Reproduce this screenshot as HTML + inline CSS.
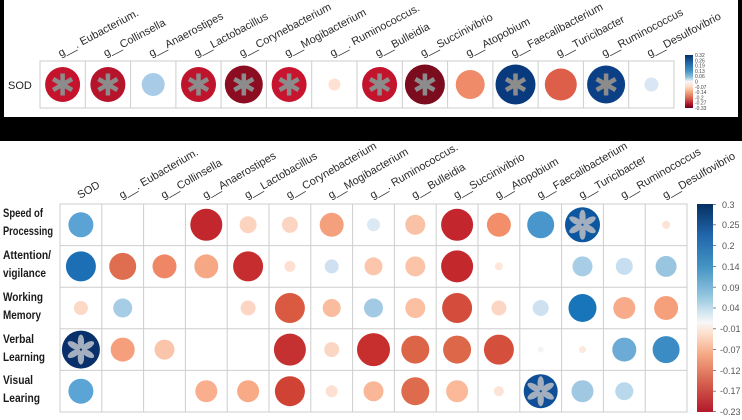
<!DOCTYPE html>
<html><head><meta charset="utf-8"><style>
html,body{margin:0;padding:0;background:#000;}
svg{display:block;}
.cl{font-family:"Liberation Sans",sans-serif;font-size:11px;fill:#2a2a2a;}
.rl{font-family:"Liberation Sans",sans-serif;font-size:12px;font-weight:bold;fill:#1a1a1a;}
.cb{font-family:"Liberation Sans",sans-serif;font-size:9px;fill:#555;}
.cbt{font-family:"Liberation Sans",sans-serif;font-size:5px;fill:#444;}
</style></head><body>
<svg width="742" height="420" viewBox="0 0 742 420" xmlns="http://www.w3.org/2000/svg">
<defs>
<linearGradient id="g1" x1="0" y1="0" x2="0" y2="1">
<stop offset="0" stop-color="#053061"/><stop offset="0.15" stop-color="#2166ac"/><stop offset="0.3" stop-color="#4393c3"/><stop offset="0.44" stop-color="#92c5de"/><stop offset="0.52" stop-color="#d1e5f0"/><stop offset="0.57" stop-color="#f7f7f7"/><stop offset="0.63" stop-color="#fddbc7"/><stop offset="0.73" stop-color="#f4a582"/><stop offset="0.86" stop-color="#d6604d"/><stop offset="1" stop-color="#b2182b"/>
</linearGradient>
<linearGradient id="g2" x1="0" y1="0" x2="0" y2="1">
<stop offset="0" stop-color="#053061"/><stop offset="0.15" stop-color="#2166ac"/><stop offset="0.3" stop-color="#4393c3"/><stop offset="0.42" stop-color="#92c5de"/><stop offset="0.5" stop-color="#f7f7f7"/><stop offset="0.6" stop-color="#fddbc7"/><stop offset="0.7" stop-color="#f4a582"/><stop offset="0.82" stop-color="#d6604d"/><stop offset="0.92" stop-color="#b2182b"/><stop offset="1" stop-color="#67001f"/>
</linearGradient>
<g id="ast"><g stroke="#8c8c8c" stroke-width="4.5"><line x1="0" y1="-11" x2="0" y2="11"/><line x1="-9.5" y1="-5.5" x2="9.5" y2="5.5"/><line x1="-9.5" y1="5.5" x2="9.5" y2="-5.5"/></g></g>
<g id="fl" fill="#a3afbf"><ellipse cx="0" cy="-8" rx="3.2" ry="7"/><ellipse cx="0" cy="-8" rx="3.2" ry="7" transform="rotate(60)"/><ellipse cx="0" cy="-8" rx="3.2" ry="7" transform="rotate(120)"/><ellipse cx="0" cy="-8" rx="3.2" ry="7" transform="rotate(180)"/><ellipse cx="0" cy="-8" rx="3.2" ry="7" transform="rotate(240)"/><ellipse cx="0" cy="-8" rx="3.2" ry="7" transform="rotate(300)"/></g>
</defs>
<rect x="0" y="0" width="742" height="420" fill="#000"/>
<!-- TOP PANEL -->
<rect x="4" y="0" width="734" height="117" fill="#fff"/>
<g stroke="#cdcdcd" stroke-width="1" fill="none">
<rect x="40" y="61" width="634" height="47"/>
<line x1="85.3" y1="61" x2="85.3" y2="108"/><line x1="130.6" y1="61" x2="130.6" y2="108"/><line x1="175.9" y1="61" x2="175.9" y2="108"/><line x1="221.1" y1="61" x2="221.1" y2="108"/><line x1="266.4" y1="61" x2="266.4" y2="108"/><line x1="311.7" y1="61" x2="311.7" y2="108"/><line x1="357" y1="61" x2="357" y2="108"/><line x1="402.3" y1="61" x2="402.3" y2="108"/><line x1="447.6" y1="61" x2="447.6" y2="108"/><line x1="492.9" y1="61" x2="492.9" y2="108"/><line x1="538.1" y1="61" x2="538.1" y2="108"/><line x1="583.4" y1="61" x2="583.4" y2="108"/><line x1="628.7" y1="61" x2="628.7" y2="108"/>
</g>
<text x="8" y="89" style="font-family:'Liberation Sans',sans-serif;font-size:11px;fill:#222">SOD</text>
<g class="cl">
<text x="60.6" y="57" transform="rotate(-28 60.6 57)">g__. Eubacterium.</text>
<text x="105.9" y="57" transform="rotate(-28 105.9 57)">g__Collinsella</text>
<text x="151.2" y="57" transform="rotate(-28 151.2 57)">g__Anaerostipes</text>
<text x="196.5" y="57" transform="rotate(-28 196.5 57)">g__Lactobacillus</text>
<text x="241.8" y="57" transform="rotate(-28 241.8 57)">g__Corynebacterium</text>
<text x="287.1" y="57" transform="rotate(-28 287.1 57)">g__Mogibacterium</text>
<text x="332.4" y="57" transform="rotate(-28 332.4 57)">g__. Ruminococcus.</text>
<text x="377.6" y="57" transform="rotate(-28 377.6 57)">g__Bulleidia</text>
<text x="422.9" y="57" transform="rotate(-28 422.9 57)">g__Succinivibrio</text>
<text x="468.2" y="57" transform="rotate(-28 468.2 57)">g__Atopobium</text>
<text x="513.5" y="57" transform="rotate(-28 513.5 57)">g__Faecalibacterium</text>
<text x="558.8" y="57" transform="rotate(-28 558.8 57)">g__Turicibacter</text>
<text x="604.1" y="57" transform="rotate(-28 604.1 57)">g__Ruminococcus</text>
<text x="649.4" y="57" transform="rotate(-28 649.4 57)">g__Desulfovibrio</text>
</g>
<circle cx="62.6" cy="84.5" r="17.5" fill="#c5132d"/><use href="#ast" x="62.6" y="84.5"/>
<circle cx="107.9" cy="84.5" r="17.5" fill="#b5142b"/><use href="#ast" x="107.9" y="84.5"/>
<circle cx="153.2" cy="84.5" r="11.5" fill="#a8cce8"/>
<circle cx="198.5" cy="84.5" r="17.5" fill="#c0132c"/><use href="#ast" x="198.5" y="84.5"/>
<circle cx="243.8" cy="84.5" r="19" fill="#8c0d22"/><use href="#ast" x="243.8" y="84.5"/>
<circle cx="289.1" cy="84.5" r="17.5" fill="#c8152f"/><use href="#ast" x="289.1" y="84.5"/>
<circle cx="334.4" cy="84.5" r="6" fill="#fde2d4"/>
<circle cx="379.6" cy="84.5" r="17.5" fill="#c3142e"/><use href="#ast" x="379.6" y="84.5"/>
<circle cx="424.9" cy="84.5" r="20" fill="#7b0c1e"/><use href="#ast" x="424.9" y="84.5"/>
<circle cx="470.2" cy="84.5" r="14.5" fill="#f08b6a"/>
<circle cx="515.5" cy="84.5" r="20" fill="#083a7d"/><use href="#ast" x="515.5" y="84.5"/>
<circle cx="560.8" cy="84.5" r="16" fill="#dd5f49"/>
<circle cx="606.1" cy="84.5" r="19" fill="#0b4087"/><use href="#ast" x="606.1" y="84.5"/>
<circle cx="651.4" cy="84.5" r="7" fill="#d9e6f3"/>
<rect x="685" y="55" width="8" height="53" fill="url(#g2)"/>
<g class="cbt">
<text x="695" y="57">0.32</text><text x="695" y="62.3">0.26</text><text x="695" y="67.6">0.19</text><text x="695" y="72.9">0.13</text><text x="695" y="78.2">0.06</text><text x="695" y="83.5">0</text><text x="695" y="88.8">-0.07</text><text x="695" y="94.1">-0.14</text><text x="695" y="99.4">-0.2</text><text x="695" y="104.7">-0.27</text><text x="695" y="110">-0.33</text>
</g>
<!-- BOTTOM PANEL -->
<rect x="0" y="141" width="742" height="279" fill="#fff"/>
<g stroke="#cdcdcd" stroke-width="1" fill="none">
<rect x="60" y="204" width="627" height="208"/>
<line x1="101.8" y1="204" x2="101.8" y2="412"/><line x1="143.6" y1="204" x2="143.6" y2="412"/><line x1="185.4" y1="204" x2="185.4" y2="412"/><line x1="227.2" y1="204" x2="227.2" y2="412"/><line x1="269" y1="204" x2="269" y2="412"/><line x1="310.8" y1="204" x2="310.8" y2="412"/><line x1="352.6" y1="204" x2="352.6" y2="412"/><line x1="394.4" y1="204" x2="394.4" y2="412"/><line x1="436.2" y1="204" x2="436.2" y2="412"/><line x1="478" y1="204" x2="478" y2="412"/><line x1="519.8" y1="204" x2="519.8" y2="412"/><line x1="561.6" y1="204" x2="561.6" y2="412"/><line x1="603.4" y1="204" x2="603.4" y2="412"/><line x1="645.2" y1="204" x2="645.2" y2="412"/>
<line x1="60" y1="245.6" x2="687" y2="245.6"/><line x1="60" y1="287.2" x2="687" y2="287.2"/><line x1="60" y1="328.8" x2="687" y2="328.8"/><line x1="60" y1="370.4" x2="687" y2="370.4"/>
</g>
<g class="cl">
<text x="80" y="199" transform="rotate(-30 80 199)">SOD</text>
<text x="121.7" y="199" transform="rotate(-30 121.7 199)">g__. Eubacterium.</text>
<text x="163.5" y="199" transform="rotate(-30 163.5 199)">g__Collinsella</text>
<text x="205.3" y="199" transform="rotate(-30 205.3 199)">g__Anaerostipes</text>
<text x="247.1" y="199" transform="rotate(-30 247.1 199)">g__Lactobacillus</text>
<text x="288.9" y="199" transform="rotate(-30 288.9 199)">g__Corynebacterium</text>
<text x="330.7" y="199" transform="rotate(-30 330.7 199)">g__Mogibacterium</text>
<text x="372.5" y="199" transform="rotate(-30 372.5 199)">g__. Ruminococcus.</text>
<text x="414.3" y="199" transform="rotate(-30 414.3 199)">g__Bulleidia</text>
<text x="456.1" y="199" transform="rotate(-30 456.1 199)">g__Succinivibrio</text>
<text x="497.9" y="199" transform="rotate(-30 497.9 199)">g__Atopobium</text>
<text x="539.7" y="199" transform="rotate(-30 539.7 199)">g__Faecalibacterium</text>
<text x="581.5" y="199" transform="rotate(-30 581.5 199)">g__Turicibacter</text>
<text x="623.3" y="199" transform="rotate(-30 623.3 199)">g__Ruminococcus</text>
<text x="665.1" y="199" transform="rotate(-30 665.1 199)">g__Desulfovibrio</text>
</g>
<g class="rl">
<text x="3" y="217" textLength="40" lengthAdjust="spacingAndGlyphs">Speed of</text>
<text x="3" y="235" textLength="50" lengthAdjust="spacingAndGlyphs">Processing</text>
<text x="3" y="259" textLength="48" lengthAdjust="spacingAndGlyphs">Attention/</text>
<text x="3" y="277" textLength="43" lengthAdjust="spacingAndGlyphs">vigilance</text>
<text x="3" y="301" textLength="40" lengthAdjust="spacingAndGlyphs">Working</text>
<text x="3" y="319" textLength="38" lengthAdjust="spacingAndGlyphs">Memory</text>
<text x="3" y="343" textLength="31" lengthAdjust="spacingAndGlyphs">Verbal</text>
<text x="3" y="361" textLength="42" lengthAdjust="spacingAndGlyphs">Learning</text>
<text x="3" y="384" textLength="30" lengthAdjust="spacingAndGlyphs">Visual</text>
<text x="3" y="402" textLength="37" lengthAdjust="spacingAndGlyphs">Learing</text>
</g>
<!-- Row 0 -->
<circle cx="80.9" cy="224.8" r="12.5" fill="#5ba3d5"/>
<circle cx="206.3" cy="224.8" r="16" fill="#c2272d"/>
<circle cx="248.1" cy="224.8" r="8.5" fill="#fcd3be"/>
<circle cx="289.9" cy="224.8" r="8" fill="#fcd5c2"/>
<circle cx="331.7" cy="224.8" r="12" fill="#f5a07d"/>
<circle cx="373.5" cy="224.8" r="6.5" fill="#dbe9f4"/>
<circle cx="415.3" cy="224.8" r="10" fill="#f9c1a5"/>
<circle cx="457.1" cy="224.8" r="16" fill="#c3262c"/>
<circle cx="498.9" cy="224.8" r="12" fill="#f38e6a"/>
<circle cx="540.7" cy="224.8" r="13.5" fill="#4896cc"/>
<circle cx="582.5" cy="224.8" r="17.5" fill="#0d57a1"/><use href="#fl" x="582.5" y="224.8"/>
<circle cx="666.1" cy="224.8" r="4" fill="#fde3d6"/>
<!-- Row 1 -->
<circle cx="80.9" cy="266.4" r="15" fill="#1d6fb5"/>
<circle cx="122.7" cy="266.4" r="13.5" fill="#df6d4f"/>
<circle cx="164.5" cy="266.4" r="12" fill="#ef8767"/>
<circle cx="206.3" cy="266.4" r="12" fill="#f6a784"/>
<circle cx="248.1" cy="266.4" r="15" fill="#c52d2f"/>
<circle cx="289.9" cy="266.4" r="5.5" fill="#fde0d2"/>
<circle cx="331.7" cy="266.4" r="7" fill="#cfe1f0"/>
<circle cx="373.5" cy="266.4" r="9" fill="#fbc6ac"/>
<circle cx="415.3" cy="266.4" r="10" fill="#fbc3a7"/>
<circle cx="457.1" cy="266.4" r="16" fill="#c2282c"/>
<circle cx="498.9" cy="266.4" r="4" fill="#fde6da"/>
<circle cx="582.5" cy="266.4" r="10" fill="#a8cde6"/>
<circle cx="624.3" cy="266.4" r="8.5" fill="#c6def0"/>
<circle cx="666.1" cy="266.4" r="10.5" fill="#99c5e1"/>
<!-- Row 2 -->
<circle cx="80.9" cy="308" r="7" fill="#fcd8c6"/>
<circle cx="122.7" cy="308" r="9.5" fill="#a7cde6"/>
<circle cx="248.1" cy="308" r="7.5" fill="#fcd6c3"/>
<circle cx="289.9" cy="308" r="15" fill="#da5a41"/>
<circle cx="331.7" cy="308" r="9" fill="#f9bc9e"/>
<circle cx="373.5" cy="308" r="9.5" fill="#a2cae4"/>
<circle cx="415.3" cy="308" r="10" fill="#fbbfa1"/>
<circle cx="457.1" cy="308" r="15" fill="#d44c3b"/>
<circle cx="498.9" cy="308" r="7.5" fill="#fcd6c4"/>
<circle cx="540.7" cy="308" r="8" fill="#cde1f0"/>
<circle cx="582.5" cy="308" r="14" fill="#1875ba"/>
<circle cx="624.3" cy="308" r="11" fill="#f8ab8a"/>
<circle cx="666.1" cy="308" r="12" fill="#f6a07b"/>
<!-- Row 3 -->
<circle cx="80.9" cy="349.6" r="19" fill="#09306b"/><use href="#fl" x="80.9" y="349.6"/>
<circle cx="122.7" cy="349.6" r="12" fill="#f59f7c"/>
<circle cx="164.5" cy="349.6" r="10" fill="#fbc5ab"/>
<circle cx="289.9" cy="349.6" r="16" fill="#c53030"/>
<circle cx="331.7" cy="349.6" r="7.5" fill="#fcd6c4"/>
<circle cx="373.5" cy="349.6" r="16.5" fill="#c62f2d"/>
<circle cx="415.3" cy="349.6" r="14" fill="#dc6447"/>
<circle cx="457.1" cy="349.6" r="14" fill="#dd6849"/>
<circle cx="498.9" cy="349.6" r="15" fill="#d5503c"/>
<circle cx="540.7" cy="349.6" r="3" fill="#f4f4f4"/>
<circle cx="582.5" cy="349.6" r="3.5" fill="#fde8de"/>
<circle cx="624.3" cy="349.6" r="12" fill="#6babd5"/>
<circle cx="666.1" cy="349.6" r="13.5" fill="#3b8cc4"/>
<!-- Row 4 -->
<circle cx="80.9" cy="391.2" r="12.5" fill="#5aa4d6"/>
<circle cx="206.3" cy="391.2" r="11" fill="#f9ae8d"/>
<circle cx="248.1" cy="391.2" r="11" fill="#f8aa87"/>
<circle cx="289.9" cy="391.2" r="15" fill="#cf4234"/>
<circle cx="331.7" cy="391.2" r="6" fill="#fde0d2"/>
<circle cx="373.5" cy="391.2" r="10" fill="#f9b797"/>
<circle cx="415.3" cy="391.2" r="14" fill="#de6b4d"/>
<circle cx="457.1" cy="391.2" r="11" fill="#fbb999"/>
<circle cx="498.9" cy="391.2" r="5" fill="#fde3d6"/>
<circle cx="540.7" cy="391.2" r="17" fill="#0e4f97"/><use href="#fl" x="540.7" y="391.2"/>
<circle cx="582.5" cy="391.2" r="11" fill="#a0c8e3"/>
<circle cx="624.3" cy="391.2" r="9" fill="#b9d8eb"/>
<!-- colorbar -->
<rect x="697" y="204" width="16" height="208" fill="url(#g1)"/>
<g stroke="#666" stroke-width="0.8">
<line x1="713" y1="204.5" x2="716" y2="204.5"/><line x1="713" y1="224.8" x2="716" y2="224.8"/><line x1="713" y1="245.6" x2="716" y2="245.6"/><line x1="713" y1="266.4" x2="716" y2="266.4"/><line x1="713" y1="287.2" x2="716" y2="287.2"/><line x1="713" y1="308" x2="716" y2="308"/><line x1="713" y1="328.8" x2="716" y2="328.8"/><line x1="713" y1="349.6" x2="716" y2="349.6"/><line x1="713" y1="370.4" x2="716" y2="370.4"/><line x1="713" y1="391.2" x2="716" y2="391.2"/><line x1="713" y1="411.5" x2="716" y2="411.5"/>
</g>
<g class="cb">
<text x="722" y="208">0.3</text><text x="722" y="228">0.25</text><text x="722" y="249">0.2</text><text x="722" y="270">0.14</text><text x="722" y="291">0.09</text><text x="722" y="311">0.04</text><text x="720" y="332">-0.01</text><text x="720" y="353">-0.07</text><text x="720" y="374">-0.12</text><text x="720" y="394">-0.17</text><text x="720" y="415">-0.23</text>
</g>
</svg>
</body></html>
